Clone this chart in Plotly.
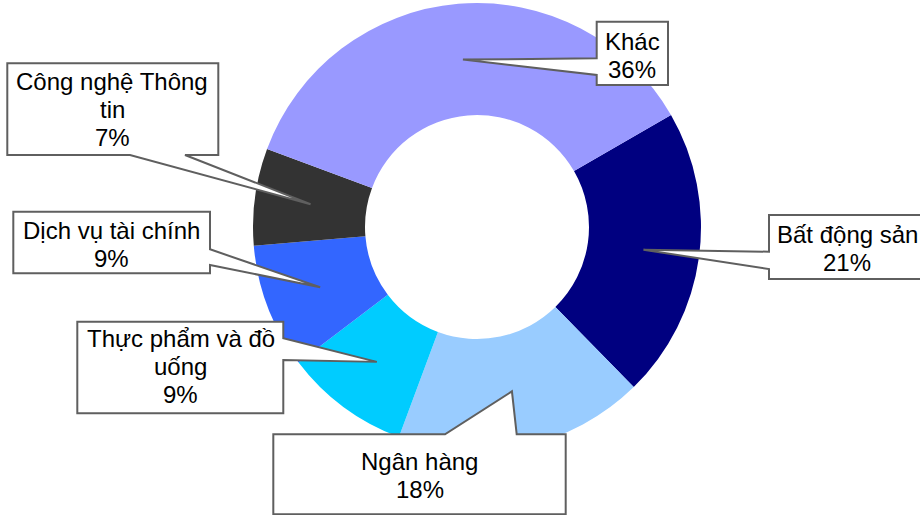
import math
import plotly.graph_objects as go

# ---- data ----
categories = ["Bất động sản", "Ngân hàng", "Thực phẩm và đồ uống",
              "Dịch vụ tài chính", "Công nghệ Thông tin", "Khác"]
values = [21, 18, 9, 9, 7, 36]
colors = ["#000080", "#99CCFF", "#00CCFF", "#3366FF", "#333333", "#9999FF"]
# wrapped label lines as shown in the callouts
label_lines = [["Bất động sản"], ["Ngân hàng"], ["Thực phẩm và đồ", "uống"],
               ["Dịch vụ tài chính"], ["Công nghệ Thông", "tin"], ["Khác"]]

# ---- layout constants (pixels) ----
W, H = 920, 515
CX, CY, R = 477, 227, 224
ROT = 60
boxes = [
    dict(box=(769, 215, 935, 279), side="left", base=(251.7, 269), tx=847, b0=242.5),
    dict(box=(273.3, 434.3, 565.7, 514.3), side="top", base=(445, 516.7), tx=419.5, b0=469.3),
    dict(box=(77.3, 321.7, 283.3, 413.3), side="right", base=(338.3, 360), tx=180.5, b0=346.7),
    dict(box=(13.3, 211.7, 210, 273.3), side="right", base=(249.3, 265), tx=111, b0=238.3),
    dict(box=(7.3, 63.3, 218.3, 155), side="bottom", base=(130, 185), tx=112, b0=89.3),
    dict(box=(596.7, 21.7, 668, 85), side="left", base=(58.3, 75), tx=632, b0=49.3),
]
LINE_H = 28
FS = 24

def px(x):
    return x / W

def py(y):
    return 1 - y / H

fig = go.Figure(go.Pie(
    labels=categories, values=values, sort=False, direction="clockwise",
    rotation=ROT, hole=0.5, textinfo="none", hoverinfo="label+percent",
    marker=dict(colors=colors, line=dict(width=0)),
    domain=dict(x=[px(CX - R), px(CX + R)], y=[py(CY + R), py(CY - R)]),
    showlegend=False,
))

shapes = []
annotations = []
total = sum(values)
start = ROT
for i, (v, cat) in enumerate(zip(values, categories)):
    span = 360 * v / total
    mid = math.radians(start + span / 2)
    start += span
    tipx = CX + 0.75 * R * math.sin(mid)
    tipy = CY - 0.75 * R * math.cos(mid)
    b = boxes[i]
    x0, y0, x1, y1 = b["box"]
    a, c = b["base"]
    if b["side"] == "left":
        pts = [(x0, y0), (x1, y0), (x1, y1), (x0, y1), (x0, c), (tipx, tipy), (x0, a)]
    elif b["side"] == "right":
        pts = [(x0, y0), (x1, y0), (x1, a), (tipx, tipy), (x1, c), (x1, y1), (x0, y1)]
    elif b["side"] == "top":
        pts = [(x0, y0), (a, y0), (tipx, tipy), (c, y0), (x1, y0), (x1, y1), (x0, y1)]
    else:  # bottom
        pts = [(x0, y0), (x1, y0), (x1, y1), (c, y1), (tipx, tipy), (a, y1), (x0, y1)]
    path = "M " + " L ".join(f"{px(x):.5f},{py(y):.5f}" for x, y in pts) + " Z"
    shapes.append(dict(type="path", xref="paper", yref="paper", path=path,
                       fillcolor="white", line=dict(color="#5f5f5f", width=2)))
    lines = label_lines[i] + [f"{v}%"]
    for j, t in enumerate(lines):
        base = b["b0"] + j * LINE_H
        annotations.append(dict(
            text=t, xref="paper", yref="paper", x=px(b["tx"]), y=py(base - 0.33 * FS),
            xanchor="center", yanchor="middle", showarrow=False,
            font=dict(family="Arial, Liberation Sans, sans-serif", size=FS, color="black")))

fig.update_layout(
    width=W, height=H, margin=dict(l=0, r=0, t=0, b=0),
    paper_bgcolor="white", plot_bgcolor="white",
    shapes=shapes, annotations=annotations,
)
fig.write_html("out.html", config={"displayModeBar": False},
               post_script="document.body.style.margin='0';document.body.style.overflow='hidden';")
